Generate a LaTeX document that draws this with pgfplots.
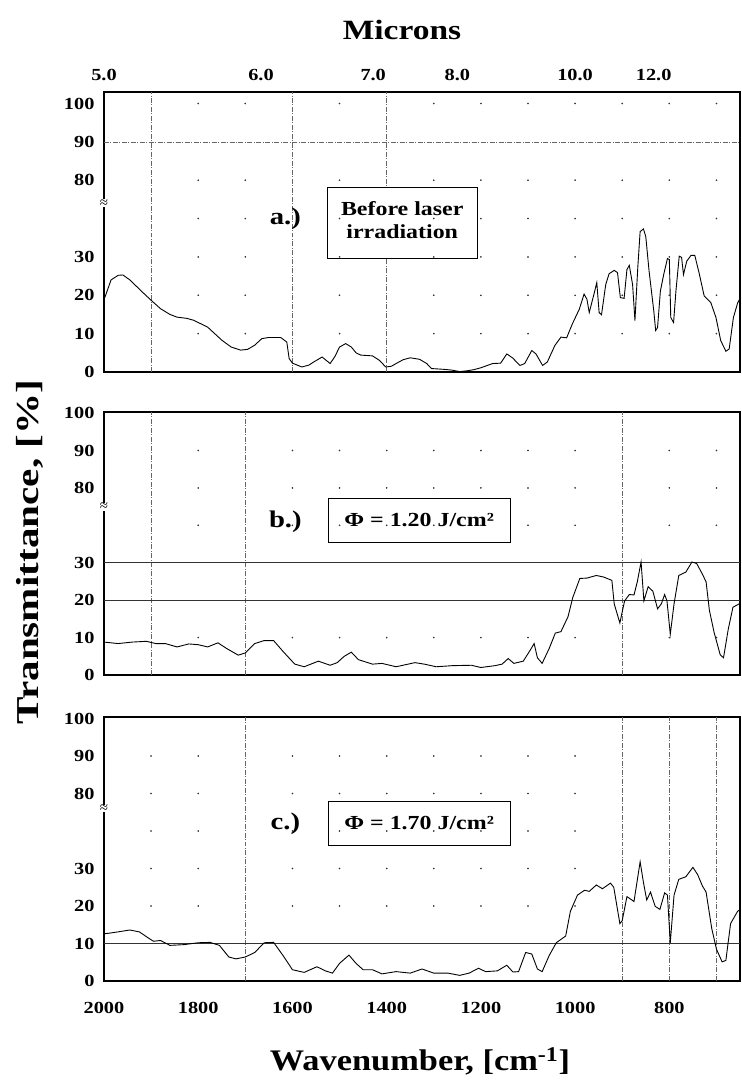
\documentclass[border=0pt]{standalone}
\usepackage{fontspec}
\setmainfont{Liberation Serif}
\usepackage{graphicx}
\usepackage{pgfplots}
\pgfplotsset{compat=1.18}
\newcommand{\sx}[1]{\scalebox{1.2}[1]{#1}}

\pgfplotsset{
 panel/.style={
  scale only axis, width=636bp, xmin=650, xmax=2000, x dir=reverse, ymin=0,
  axis line style={line width=1.1pt},
  xtick=\empty, ytick={0,10,20,30,50,60,70},
  yticklabels={\sx{0},\sx{10},\sx{20},\sx{30},\sx{80},\sx{90},\sx{100}},
  yticklabel style={font=\fontsize{17}{17}\selectfont\bfseries, xshift=-6bp},
  /pgf/number format/assume math mode=true,
  major tick length=0pt,
  clip=false,
 },
 dotgrid/.style={only marks, mark=*, mark size=0.6pt, black!80, forget plot},
 gline/.style={black!60, line width=0.5pt, dash pattern=on 5pt off 1.5pt on 1pt off 1.5pt, forget plot},
 sline/.style={black!80, line width=0.6pt, forget plot},
 curve/.style={black, line width=0.9pt},
}
\tikzset{
 lbl/.style={font=\fontsize{24}{24}\selectfont\bfseries},
 tbox/.style={draw=black, line width=0.6pt, fill=white, font=\fontsize{20}{23}\selectfont\bfseries, align=center},
 brk/.style={fill=white, inner sep=0.1pt, font=\fontsize{15}{15}\selectfont},
}

\pgfplotstableread{
w t
2000 19
1998 19.5
1985 24
1970 25.2
1960 25.3
1945 24
1920 21
1900 18.7
1880 16.5
1860 15
1845 14.3
1825 14
1810 13.5
1795 12.6
1780 11.7
1765 10
1750 8.3
1730 6.5
1710 5.7
1695 5.9
1680 7
1665 8.7
1650 9
1625 9
1612 7.8
1607 3.5
1600 2.3
1580 1.3
1565 1.8
1555 2.6
1537 3.9
1528 3
1520 2.2
1510 4
1500 6.5
1487 7.4
1475 6.5
1465 5
1455 4.4
1430 4.2
1415 3
1402 1.3
1390 1.5
1380 2.2
1365 3.2
1350 3.7
1330 3.3
1315 2.2
1305 0.9
1280 0.7
1262 0.5
1245 0.1
1230 0.3
1215 0.6
1200 1.1
1175 2.2
1158 2.3
1145 4.7
1133 3.7
1117 1.7
1107 2.2
1092 5.6
1083 4.7
1069 1.7
1059 2.6
1043 6.9
1030 9.1
1018 8.9
1006 12.5
991 16.4
981 20.3
975 19
970 15.5
960 20.3
954 23.3
949 15.5
944 14.9
935 22.8
928 25.6
917 26.5
910 25.9
904 19.4
896 19.2
890 26.7
885 27.8
878 22.8
873 13.4
867 27.2
862 36.6
855 37.3
850 35.3
843 26.3
833 15.9
829 10.8
825 11.6
819 21.1
812 25.4
804 29.6
800 29.3
797 14.2
791 12.9
786 21.1
779 30.2
774 29.9
770 25.4
763 28.9
754 30.4
746 30.4
737 25.9
726 19.8
712 18.1
701 14.2
691 8.2
680 5.4
673 6
664 14.2
655 18
650 19.2
}\dataA

\pgfplotstableread{
w t
2000 8.8
1970 8.4
1940 8.8
1910 9.0
1890 8.4
1870 8.4
1845 7.5
1820 8.3
1800 8.1
1780 7.5
1758 8.6
1740 7.1
1715 5.3
1700 5.9
1680 8.4
1660 9.2
1640 9.2
1620 6.3
1595 2.9
1575 2.2
1545 3.7
1520 2.6
1505 3.3
1490 5
1475 6.1
1460 4.1
1430 2.9
1410 3.1
1380 2.2
1340 3.3
1320 2.9
1295 2.2
1260 2.5
1220 2.6
1200 2
1170 2.5
1155 2.9
1142 4.4
1130 3.1
1110 3.7
1095 6.7
1087 8.4
1080 4.6
1070 3.1
1055 7.1
1042 11.2
1030 11.6
1015 15.6
1005 20.7
990 25.8
975 25.9
955 26.6
940 26.2
922 25.3
917 19
905 13.9
895 19.8
885 21.5
875 21.4
868 24.9
860 30.2
854 19.8
845 23.6
835 22.4
825 17.7
817 19
810 21.5
805 19.8
798 10.9
790 19
780 26.6
765 27.5
752 30.2
742 29.8
730 27
722 24.9
715 17.3
705 11.4
692 5.4
685 4.6
675 12.2
665 18.1
652 19
650 19
}\dataB

\pgfplotstableread{
w t
2000 12.6
1992 12.7
1970 13.1
1945 13.6
1925 13.1
1905 11.4
1895 10.6
1880 10.8
1860 9.5
1830 9.7
1800 10.2
1775 10.3
1755 9.5
1735 6.4
1720 5.9
1700 6.4
1680 7.6
1660 10.2
1640 10.3
1620 6.8
1600 3
1575 2.3
1548 3.8
1530 2.7
1515 2.1
1500 4.7
1480 6.9
1465 4.7
1450 3
1430 3
1410 1.9
1380 2.5
1350 2.1
1325 3.2
1300 2.1
1270 2.1
1245 1.5
1225 2.1
1205 3.4
1190 2.5
1165 2.7
1145 4.2
1132 2.4
1120 2.5
1105 7.6
1092 7.2
1080 3.2
1070 2.5
1055 6.8
1040 10.2
1020 12
1010 18.6
995 22.9
980 24.2
970 23.9
955 25.6
942 24.6
925 26.1
918 25
905 15.3
900 16.1
890 22.5
875 21.2
862 31.8
855 26.3
848 21.6
840 23.7
830 19.9
820 19.1
810 23.5
804 22.9
798 10.2
790 22.9
780 27.1
765 27.8
750 30.3
740 28.4
730 25.4
722 23.7
710 14
700 8.5
688 5.1
680 5.5
670 15.3
655 18.6
650 19
}\dataC

\begin{document}
\begin{tikzpicture}[x=1bp,y=1bp]
\useasboundingbox (0,0) rectangle (742,1085);

% ---------- panel a ----------
\begin{axis}[panel, height=280bp, ymax=73, at={(104bp,713bp)}, anchor=south west,
  xtick={2000,1666.67,1428.57,1250,1000,833.33},
  xticklabels={\sx{5.0},\sx{6.0},\sx{7.0},\sx{8.0},\sx{10.0},\sx{12.0}},
  xticklabel pos=right,
  xticklabel style={font=\fontsize{17}{17}\selectfont\bfseries, yshift=8bp}]
\pgfplotsinvokeforeach{1800,1700,1500,1300,1200,1100,1000,900,800,700}{
  \addplot[dotgrid] coordinates {(#1,10)(#1,20)(#1,30)(#1,40)(#1,50)(#1,70)};}
\addplot[gline] coordinates {(1900,0)(1900,73)};
\addplot[gline] coordinates {(1600,0)(1600,73)};
\addplot[gline] coordinates {(1400,0)(1400,73)};
\addplot[gline] coordinates {(2000,60)(650,60)};
\addplot[curve] table[x=w,y=t] {\dataA};
\node[tbox, minimum width=150bp, minimum height=71bp] at (axis cs:1367,39) {\sx{\begin{tabular}{@{}c@{}}Before laser\\irradiation\end{tabular}}};
\node[lbl] at (axis cs:1615,40) {\sx{a.)}};
\node[brk] at (axis cs:2000,44) {≈};
\end{axis}

% ---------- panel b ----------
\begin{axis}[panel, height=263bp, ymax=70.3, at={(104bp,410bp)}, anchor=south west]
\pgfplotsinvokeforeach{1800,1600,1500,1400,1300,1200,1100,1000,800,700}{
  \addplot[dotgrid] coordinates {(#1,10)(#1,40)(#1,50)(#1,60)};}
\addplot[gline] coordinates {(1900,0)(1900,70.3)};
\addplot[gline] coordinates {(1700,0)(1700,70.3)};
\addplot[gline] coordinates {(900,0)(900,70.3)};
\addplot[sline] coordinates {(2000,30)(650,30)};
\addplot[sline] coordinates {(2000,20)(650,20)};
\addplot[curve] table[x=w,y=t] {\dataB};
\node[tbox, minimum width=182bp, minimum height=44bp] at (axis cs:1331,41.4) {\sx{Φ = 1.20 J/cm²}};
\node[lbl] at (axis cs:1615,41) {\sx{b.)}};
\node[brk] at (axis cs:2000,45) {≈};
\end{axis}

% ---------- panel c ----------
\begin{axis}[panel, height=264bp, ymax=70.4, at={(104bp,104bp)}, anchor=south west,
  xtick={2000,1800,1600,1400,1200,1000,800},
  xticklabels={\sx{2000},\sx{1800},\sx{1600},\sx{1400},\sx{1200},\sx{1000},\sx{800}},
  xticklabel style={font=\fontsize{17}{17}\selectfont\bfseries, yshift=-18bp}]
\pgfplotsinvokeforeach{1900,1800,1600,1500,1400,1300,1200,1100,1000}{
  \addplot[dotgrid] coordinates {(#1,20)(#1,30)(#1,40)(#1,50)(#1,60)};}
\addplot[gline] coordinates {(1700,0)(1700,70.4)};
\addplot[gline] coordinates {(900,0)(900,70.4)};
\addplot[gline] coordinates {(800,0)(800,70.4)};
\addplot[gline] coordinates {(700,0)(700,70.4)};
\addplot[sline] coordinates {(2000,10)(650,10)};
\addplot[curve] table[x=w,y=t] {\dataC};
\node[tbox, minimum width=182bp, minimum height=44bp] at (axis cs:1331,42) {\sx{Φ = 1.70 J/cm²}};
\node[lbl] at (axis cs:1615,42) {\sx{c.)}};
\node[brk] at (axis cs:2000,46) {≈};
\end{axis}

% ---------- titles ----------
\node[font=\fontsize{28}{28}\selectfont\bfseries] at (402,1055) {\sx{Microns}};
\node[font=\fontsize{32}{32}\selectfont\bfseries, rotate=90] at (30,533) {\scalebox{1.29}[1]{Transmittance, [\%]}};
\node[font=\fontsize{30}{30}\selectfont\bfseries] at (420,24) {\scalebox{1.15}[1]{Wavenumber, [cm\textsuperscript{-1}]}};
\end{tikzpicture}
\end{document}
